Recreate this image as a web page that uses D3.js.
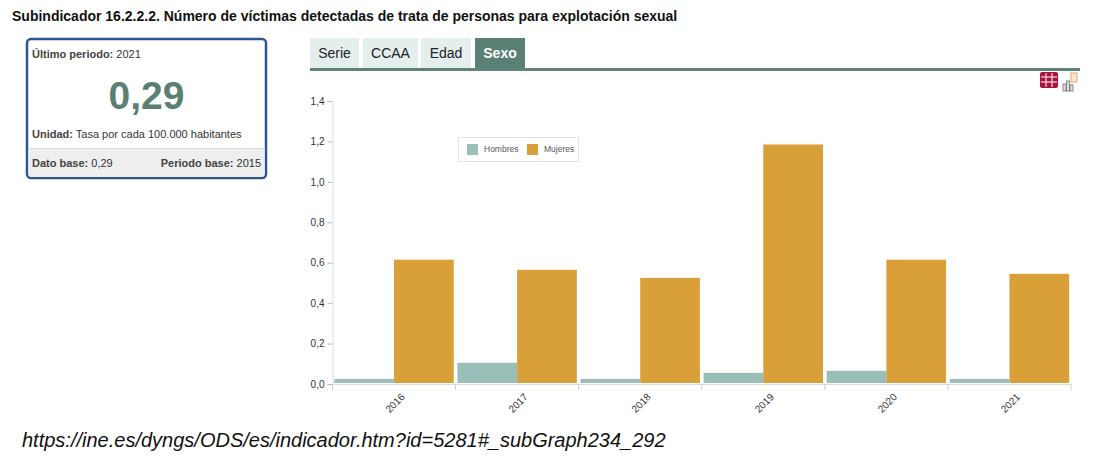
<!DOCTYPE html>
<html><head><meta charset="utf-8">
<script src="https://cdn.jsdelivr.net/npm/d3@7/dist/d3.min.js"></script>
<style>
html,body{margin:0;padding:0;background:#fff;overflow:hidden}
svg{display:block}
text{font-family:"Liberation Sans",Arial,sans-serif}
</style></head><body>
<svg id="c" width="1100" height="462"></svg>
<script>
const years=["2016","2017","2018","2019","2020","2021"];
const seriesNames=["Hombres","Mujeres"];
const hombres=[0.02,0.10,0.02,0.05,0.06,0.02];
const mujeres=[0.61,0.56,0.52,1.18,0.61,0.54];
const yTicks=[0,0.2,0.4,0.6,0.8,1.0,1.2,1.4];
const tabs=["Serie","CCAA","Edad","Sexo"];
const colors=["#9abfb9","#d99f38"];

const svg=d3.select("#c");
const fmt=v=>v.toFixed(1).replace(".",",");

svg.append("text").attr("x",12).attr("y",21).attr("font-size",14).attr("font-weight",700).attr("fill","#111")
 .text("Subindicador 16.2.2.2. Número de víctimas detectadas de trata de personas para explotación sexual");

// KPI card
const card=svg.append("g");
card.append("rect").attr("x",27).attr("y",39).attr("width",239).attr("height",139).attr("rx",4).attr("fill","#fff").attr("stroke","#2f5597").attr("stroke-width",2.5);
card.append("path").attr("d","M28.5 149H264.5V174a3 3 0 0 1-3 3H31.5a3 3 0 0 1-3-3Z").attr("fill","#eeeeee");
card.append("line").attr("x1",28.5).attr("x2",264.5).attr("y1",148.5).attr("y2",148.5).attr("stroke","#dcdcdc");
const rich=(x,y,b,r,anchor)=>{const t=card.append("text").attr("x",x).attr("y",y).attr("font-size",11).attr("fill","#333").attr("text-anchor",anchor||"start");
 t.append("tspan").attr("font-weight",700).attr("fill","#444").text(b);t.append("tspan").text(r);};
rich(32,58,"Último periodo:"," 2021");
card.append("text").attr("x",146.5).attr("y",109).attr("text-anchor","middle").attr("font-size",39).attr("font-weight",700).attr("fill","#5a7f74").text("0,29");
rich(32,138,"Unidad:"," Tasa por cada 100.000 habitantes");
rich(32,167,"Dato base:"," 0,29");
rich(261,167,"Periodo base:"," 2015","end");

// tabs
const tabX=[310,363,421,475],tabW=[49,55,50,50];
tabs.forEach((t,i)=>{
 const on=t==="Sexo";
 svg.append("rect").attr("x",tabX[i]).attr("y",38).attr("width",tabW[i]).attr("height",31).attr("fill",on?"#5a7f74":"#e3eeed");
 svg.append("text").attr("x",tabX[i]+tabW[i]/2).attr("y",58).attr("text-anchor","middle").attr("font-size",14)
  .attr("font-weight",on?700:400).attr("fill",on?"#fff":"#222").text(t);
});
svg.append("rect").attr("x",310).attr("y",68).attr("width",770).attr("height",3).attr("fill","#5f8379");

// icons
const ic=svg.append("g");
ic.append("rect").attr("x",1040).attr("y",72).attr("width",18).attr("height",16).attr("rx",2).attr("fill","#a8123f");
[1046,1052].forEach(x=>ic.append("line").attr("x1",x).attr("x2",x).attr("y1",73).attr("y2",87).attr("stroke","#fff").attr("stroke-width",1));
[77,82].forEach(y=>ic.append("line").attr("x1",1041).attr("x2",1057).attr("y1",y).attr("y2",y).attr("stroke","#fff").attr("stroke-width",1));
ic.append("rect").attr("x",1071).attr("y",73).attr("width",6).attr("height",9).attr("fill","#fbe6d0").attr("stroke","#e8a86c");
[[1063,84,3,7],[1066.5,81,3,10],[1070,85,3,6]].forEach(d=>ic.append("rect").attr("x",d[0]).attr("y",d[1]).attr("width",d[2]).attr("height",d[3]).attr("fill","#ddd").attr("stroke","#888"));

// scales
const x=d3.scaleBand().domain(years).range([332.5,1071]).paddingInner(0.03).paddingOuter(0.015);
const xTick=d3.scaleLinear().domain([0,6]).range([332.5,1071]);
const sub=d3.scaleBand().domain(seriesNames).range([0,x.bandwidth()]);
const y=d3.scaleLinear().domain([0,1.4]).range([384,101]);

const bars=svg.append("g");
[hombres,mujeres].forEach((vals,s)=>{
 bars.selectAll(null).data(vals).join("rect")
  .attr("x",(d,i)=>x(years[i])+sub(seriesNames[s]))
  .attr("width",sub.bandwidth())
  .attr("y",d=>y(d)-1)
  .attr("height",d=>y(0)-y(d))
  .attr("fill",colors[s]);
});

// y axis
const ya=svg.append("g").attr("transform","translate(332.5,0)")
 .call(d3.axisLeft(y).tickValues(yTicks).tickFormat(fmt).tickSize(5).tickPadding(3));
ya.select(".domain").attr("stroke","#ddd").attr("stroke-width",1);
ya.selectAll(".tick line").attr("stroke","#bbb");
ya.selectAll("text").attr("font-size",10).attr("fill","#333").attr("font-family",'"Liberation Sans",Arial,sans-serif');

// x axis
svg.append("line").attr("x1",332.5).attr("x2",1071).attr("y1",384.5).attr("y2",384.5).attr("stroke","#ddd");
d3.range(7).forEach(i=>svg.append("line").attr("x1",xTick(i)).attr("x2",xTick(i)).attr("y1",384).attr("y2",390).attr("stroke","#ccc"));
years.forEach((yr,i)=>{
 const cx=xTick(i)+ (xTick(1)-xTick(0))/2;
 svg.append("text").attr("transform",`translate(${cx+1},403) rotate(-45)`).attr("text-anchor","middle")
  .attr("dy","0.35em").attr("font-size",10).attr("fill","#333").text(yr);
});

// legend
const lg=svg.append("g");
lg.append("rect").attr("x",458.5).attr("y",137.5).attr("width",120).attr("height",24).attr("fill","#fff").attr("stroke","#e2e2e2");
[[467,484],[527,544]].forEach((p,i)=>{
 lg.append("rect").attr("x",p[0]).attr("y",144).attr("width",11).attr("height",11).attr("fill",colors[i]);
 lg.append("text").attr("x",p[1]).attr("y",152).attr("font-size",8.5).attr("fill","#555").text(seriesNames[i]);
});

svg.append("text").attr("x",22).attr("y",447).attr("font-size",20).attr("font-style","italic").attr("fill","#111")
 .text("https://ine.es/dyngs/ODS/es/indicador.htm?id=5281#_subGraph234_292");
</script></body></html>
